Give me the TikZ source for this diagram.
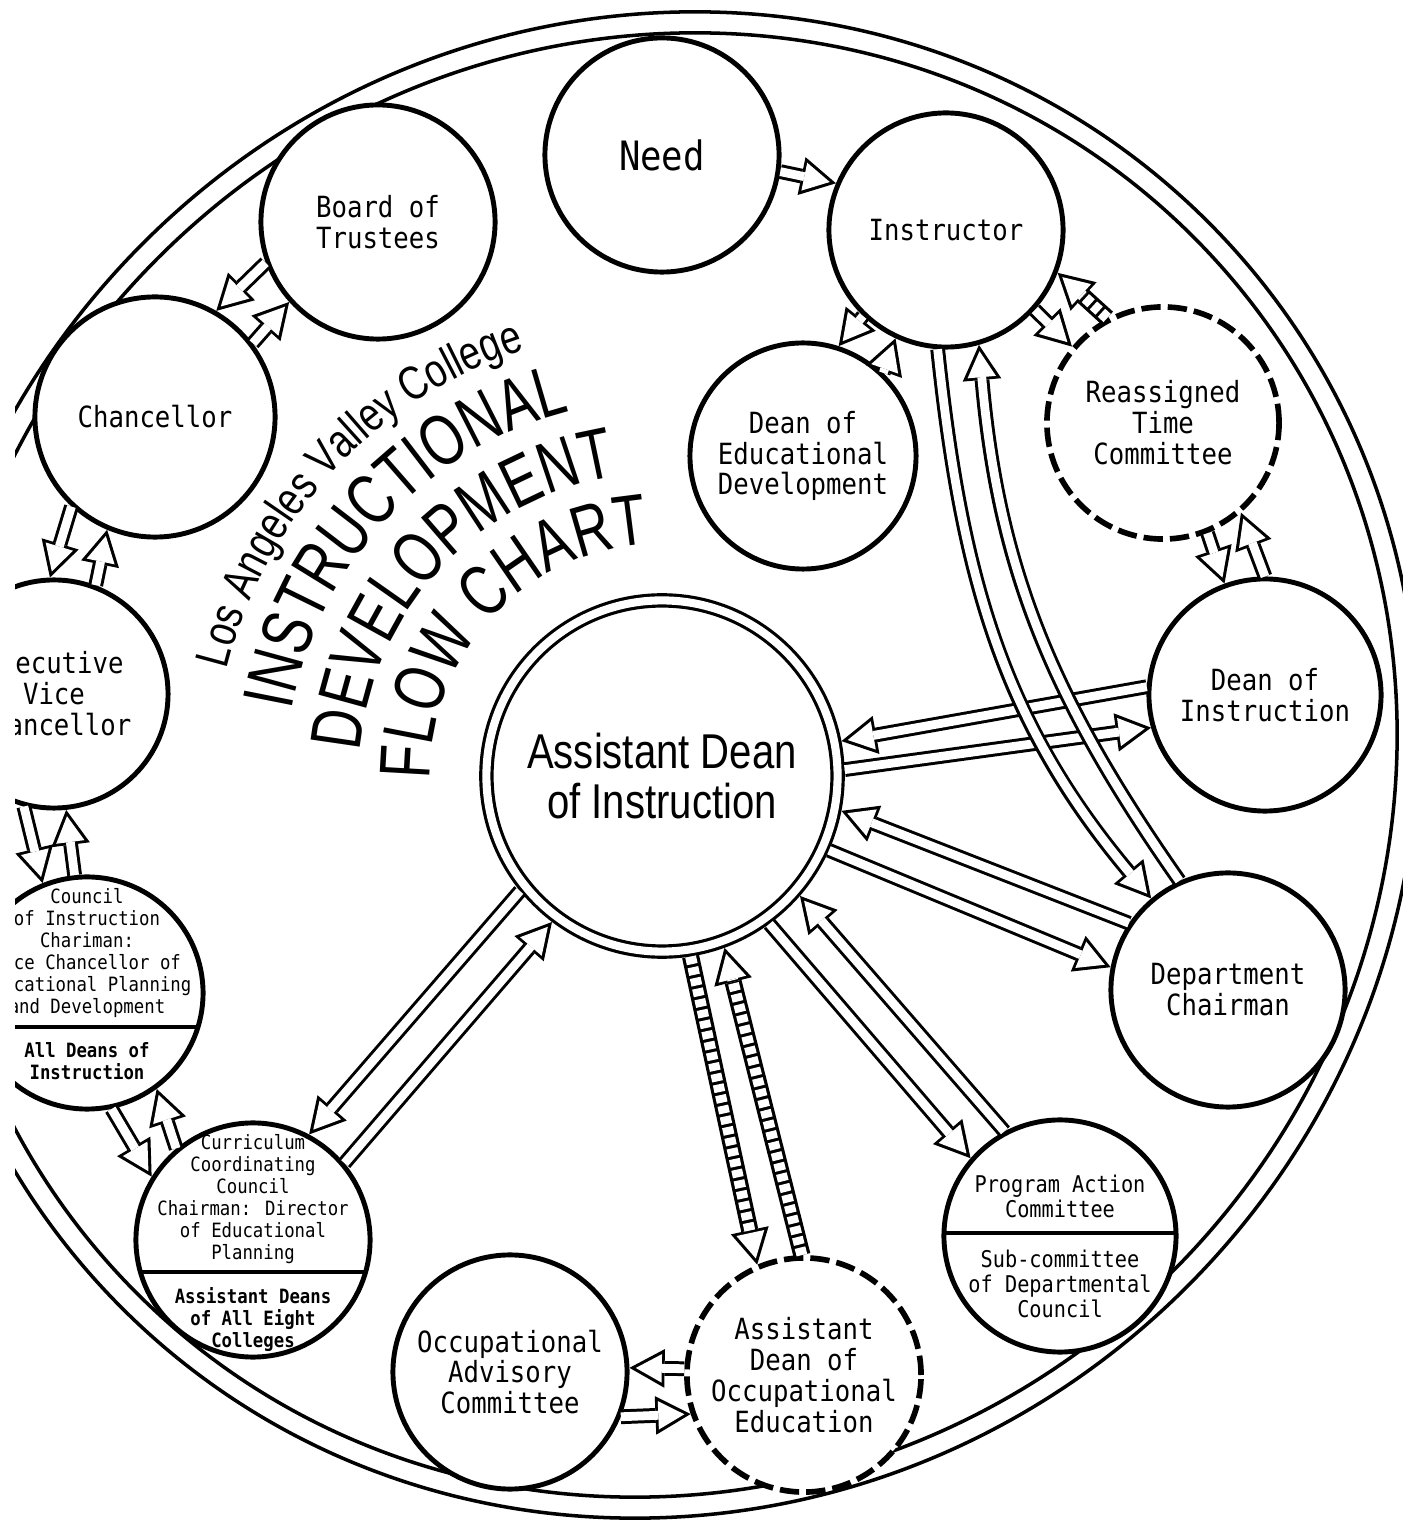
\documentclass[tikz,border=0pt]{standalone}
\usepackage{fontspec}
\newfontfamily\macchina{DejaVu Sans Mono}[FakeStretch=0.88]
\newfontfamily\titolo{Liberation Sans}[FakeStretch=0.744]
\newfontfamily\collegio{Liberation Sans}[FakeStretch=0.79]
\newfontfamily\decano{Liberation Sans}[FakeStretch=0.82]
\usetikzlibrary{arrows.meta,calc,decorations.text}

\tikzset{
  ente/.style={circle, draw, line width=1.4pt, fill=white, minimum size=2.34cm,
    inner sep=-0.8cm, align=center, font=\macchina\fontsize{8.3}{8.8}\selectfont},
  tratteggiato/.style={ente, line width=1.6pt, dash pattern=on 5.5pt off 2pt},
  minuto/.style={font=\macchina\fontsize{5.6}{6.25}\selectfont},
  cava/.style={white, line width=2.5pt, shorten >=1.8pt,
    -{Triangle[length=7.4pt,width=8.1pt,line width=0pt]},
    preaction={draw=black, solid, line width=4.2pt, shorten >=0pt,
      -{Triangle[length=10pt,width=11pt,line width=0pt]}}},
  scala/.style={white, line width=3.1pt, shorten >=1.8pt, dash pattern=on 2.2pt off 0.9pt,
    -{Triangle[length=7.4pt,width=8.1pt,line width=0pt]},
    preaction={draw=black, solid, line width=4.9pt, shorten >=0pt,
      -{Triangle[length=10pt,width=11pt,line width=0pt]}}},
  anello/.style={line width=1pt},
}

\newcommand{\freccia}[2]{ % #1 sarà il punto di partenza, #2 quello di arrivo
  \draw[cava] (#1) -- (#2);
}
\newcommand{\scaletta}[2]{ % come \freccia, ma col tratteggio a gradini
  \draw[scala] (#1) -- (#2);
}
\newcommand{\riga}[3]{ % #1 nodo, #2 mezza corda, #3 quota rispetto al centro
  \draw[line width=1.2pt] ($(#1.center)+(-#2,#3)$) -- ($(#1.center)+(#2,#3)$);
}
\newcommand{\arco}[3]{ % #1 raggio attorno al decano, #2 carattere, #3 testo
  \path[decorate, decoration={text along path, text align=center, text={|#2|#3}}]
    ($(ad.center)+(185:#1)$) arc[start angle=185, end angle=89, radius=#1];
}

\begin{document}
\begin{tikzpicture}[x=0.01cm, y=0.01cm]
  \useasboundingbox (0,0) rectangle (1403,1532);
  \clip (15,0) rectangle (1403,1532);

  \begin{scope}[shift={(665,767)}, rotate=45]
    \draw[anello] (0,0) ellipse [x radius=768, y radius=738];
    \draw[anello] (0,0) ellipse [x radius=747, y radius=717];
  \end{scope}

  \node[ente, double, double distance=2.3pt, line width=0.9pt, minimum size=3.51cm,
    outer sep=2.05pt, font=\decano\fontsize{13.9}{14.2}\selectfont] (ad) at (662,756)
    {Assistant Dean\\of Instruction};

  \arco{232}{\titolo\fontsize{20.5}{22}\selectfont}{FLOW CHART}
  \arco{303}{\titolo\fontsize{20.5}{22}\selectfont}{DEVELOPMENT}
  \arco{376}{\titolo\fontsize{20.5}{22}\selectfont}{INSTRUCTIONAL}
  \arco{448}{\collegio\fontsize{13.5}{15}\selectfont}{Los Angeles Valley College}

  \node[ente, font=\macchina\fontsize{11.5}{12}\selectfont] (need) at (662,1377) {Need};
  \node[ente] (board) at (378,1310) {Board of\\Trustees};
  \node[ente] (instr) at (946,1302) {Instructor};
  \node[ente, minimum size=2.40cm] (chanc) at (155,1115) {Chancellor};
  \node[ente, minimum size=2.28cm] (execvc) at (54,838) {Executive\\Vice\\Chancellor};
  \node[ente, minuto, minimum size=2.32cm] (council) at (87,539)
    {Council\\of Instruction\\Chariman:\\Vice Chancellor of\\Educational Planning\\and Development\\[6.25pt]\textbf{All Deans of}\\\textbf{Instruction}\rule[-5pt]{0pt}{5pt}};
  \node[ente, minuto, minimum size=2.34cm] (curric) at (253,292)
    {\rule{0pt}{6pt}Curriculum\\Coordinating\\Council\\Chairman: Director\\of Educational\\Planning\\[6.25pt]\textbf{Assistant Deans}\\\textbf{of All Eight}\\\textbf{Colleges}};
  \node[ente] (occadv) at (510,160) {Occupational\\Advisory\\Committee};
  \node[tratteggiato] (adoe) at (804,157) {Assistant\\Dean of\\Occupational\\Education};
  \node[ente, minimum size=2.32cm, font=\macchina\fontsize{6.55}{7.1}\selectfont] (pac) at (1060,296)
    {\rule{0pt}{10.7pt}Program Action\\Committee\\[7.1pt]Sub-committee\\of Departmental\\Council};
  \node[ente] (dchair) at (1228,542) {Department\\Chairman};
  \node[ente, minimum size=2.32cm] (dinstr) at (1265,837) {Dean of\\Instruction};
  \node[tratteggiato, minimum size=2.32cm] (reass) at (1163,1109) {Reassigned\\Time\\Committee};
  \node[ente, minimum size=2.26cm] (ded) at (803,1076) {Dean of\\Educational\\Development};

  \riga{council}{111}{-34}
  \riga{curric}{112}{-32}
  \riga{pac}{116}{3}

  \freccia{need.352}{instr.157}
  \freccia{board.200}{chanc.60}
  \freccia{chanc.37}{board.222}
  \freccia{chanc.227}{execvc.92}
  \freccia{execvc.69}{chanc.247}
  \freccia{execvc.255}{council.112}
  \freccia{council.96}{execvc.276}
  \freccia{council.282}{curric.148}
  \freccia{curric.130}{council.306}
  \freccia{ad.219}{curric.62}
  \freccia{curric.40}{ad.233}
  \scaletta{ad.279}{adoe.113}
  \scaletta{adoe.91}{ad.290}
  \freccia{ad.306}{pac.139}
  \freccia{pac.118}{ad.319}
  \freccia{ad.336}{dchair.169}
  \freccia{dchair.146}{ad.349}
  \freccia{dinstr.176}{ad.11}
  \freccia{ad.2}{dinstr.196}
  \draw[cava] (instr.266) to[out=-84, in=130] (dchair.130);
  \draw[cava] (dchair.114) to[out=125, in=-85] (instr.286);
  \freccia{instr.226}{ded.72}
  \freccia{ded.46}{instr.245}
  \scaletta{reass.118}{instr.339}
  \freccia{instr.318}{reass.140}
  \freccia{reass.292}{dinstr.110}
  \freccia{dinstr.90}{reass.311}
  \freccia{adoe.177}{occadv.2}
  \freccia{occadv.338}{adoe.199}
\end{tikzpicture}
\end{document}
